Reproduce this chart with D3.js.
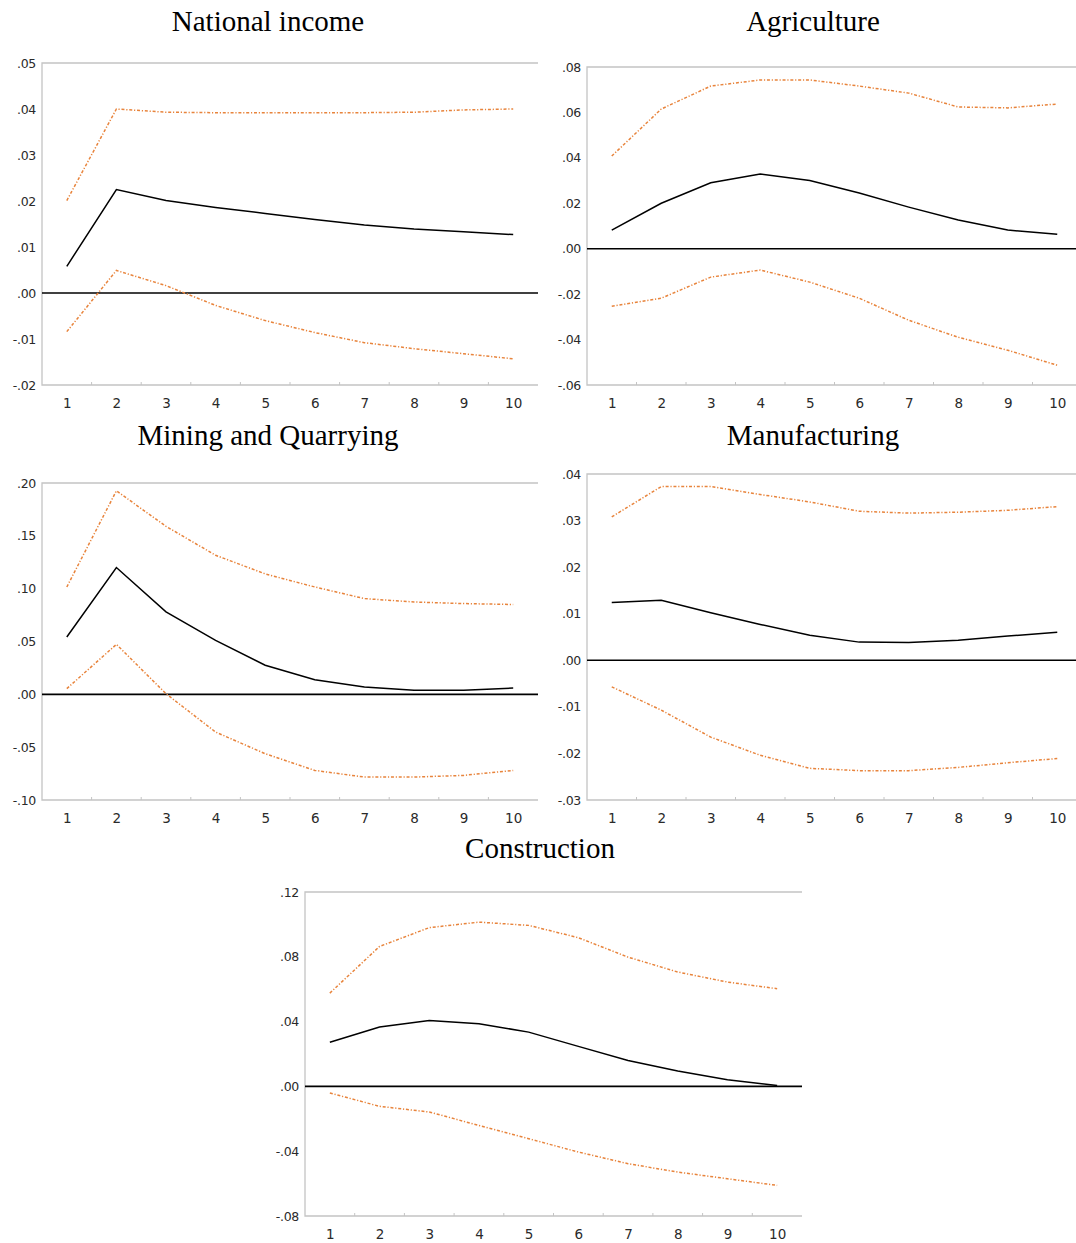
<!DOCTYPE html>
<html>
<head>
<meta charset="utf-8">
<script src="https://cdn.jsdelivr.net/npm/d3@7"></script>
<style>
  body { margin: 0; background: #fff; }
  .ttl { font-family: "Liberation Serif", "Times New Roman", serif; font-size: 29px; fill: #000; }
  .tick text { font-family: "DejaVu Sans", Tahoma, sans-serif; fill: #2a2a2a; }
  .yax .tick text { font-size: 12.5px; letter-spacing: -0.3px; }
  .xax .tick text { font-size: 13.5px; }
</style>
</head>
<body>
<svg width="1076" height="1243"></svg>
<script>
// horizons (periods after the shock)
var horizons = [1, 2, 3, 4, 5, 6, 7, 8, 9, 10];

// National income
var niResp  = [0.0058, 0.0225, 0.0201, 0.0186, 0.0173, 0.0160, 0.0148, 0.0139, 0.0133, 0.0127];
var niUpper = [0.0201, 0.0400, 0.0393, 0.0392, 0.0392, 0.0392, 0.0392, 0.0393, 0.0398, 0.0400];
var niLower = [-0.0084, 0.0049, 0.0016, -0.0027, -0.0060, -0.0086, -0.0108, -0.0121, -0.0132, -0.0143];
var niTicks = [-0.02, -0.01, 0, 0.01, 0.02, 0.03, 0.04, 0.05];

// Agriculture
var agResp  = [0.0082, 0.0200, 0.0290, 0.0329, 0.0300, 0.0245, 0.0183, 0.0126, 0.0082, 0.0064];
var agUpper = [0.0408, 0.0615, 0.0716, 0.0743, 0.0743, 0.0716, 0.0685, 0.0624, 0.0620, 0.0637];
var agLower = [-0.0253, -0.0218, -0.0125, -0.0094, -0.0147, -0.0218, -0.0315, -0.0390, -0.0447, -0.0513];
var agTicks = [-0.06, -0.04, -0.02, 0, 0.02, 0.04, 0.06, 0.08];

// Mining and Quarrying
var mqResp  = [0.0543, 0.1200, 0.0780, 0.0510, 0.0275, 0.0139, 0.0069, 0.0038, 0.0038, 0.0060];
var mqUpper = [0.1016, 0.1926, 0.1590, 0.1316, 0.1140, 0.1016, 0.0906, 0.0874, 0.0859, 0.0850];
var mqLower = [0.0054, 0.0473, 0.0006, -0.0357, -0.0562, -0.0720, -0.0783, -0.0783, -0.0767, -0.0720];
var mqTicks = [-0.10, -0.05, 0, 0.05, 0.10, 0.15, 0.20];

// Manufacturing
var mfResp  = [0.0124, 0.0129, 0.0102, 0.0077, 0.0054, 0.0039, 0.0038, 0.0043, 0.0052, 0.0060];
var mfUpper = [0.0308, 0.0373, 0.0373, 0.0356, 0.0340, 0.0320, 0.0316, 0.0318, 0.0322, 0.0330];
var mfLower = [-0.0057, -0.0107, -0.0165, -0.0204, -0.0232, -0.0237, -0.0237, -0.0230, -0.0220, -0.0211];
var mfTicks = [-0.03, -0.02, -0.01, 0, 0.01, 0.02, 0.03, 0.04];

// Construction
var coResp  = [0.0272, 0.0366, 0.0407, 0.0387, 0.0335, 0.0247, 0.0160, 0.0095, 0.0041, 0.0006];
var coUpper = [0.0576, 0.0864, 0.0980, 0.1014, 0.0994, 0.0918, 0.0798, 0.0706, 0.0644, 0.0603];
var coLower = [-0.0041, -0.0123, -0.0158, -0.0241, -0.0323, -0.0405, -0.0477, -0.0529, -0.0570, -0.0611];
var coTicks = [-0.08, -0.04, 0, 0.04, 0.08, 0.12];

var svg = d3.select("svg");

var panels = [
  {title: "National income",      resp: niResp, upper: niUpper, lower: niLower, ticks: niTicks,
   box: {left: 42,  top: 63,  right: 538,  bottom: 385},  titleX: 268, titleY: 31},
  {title: "Agriculture",          resp: agResp, upper: agUpper, lower: agLower, ticks: agTicks,
   box: {left: 587, top: 67,  right: 1082, bottom: 385},  titleX: 813, titleY: 31},
  {title: "Mining and Quarrying", resp: mqResp, upper: mqUpper, lower: mqLower, ticks: mqTicks,
   box: {left: 42,  top: 483, right: 538,  bottom: 800},  titleX: 268, titleY: 445},
  {title: "Manufacturing",        resp: mfResp, upper: mfUpper, lower: mfLower, ticks: mfTicks,
   box: {left: 587, top: 474, right: 1082, bottom: 800},  titleX: 813, titleY: 445},
  {title: "Construction",         resp: coResp, upper: coUpper, lower: coLower, ticks: coTicks,
   box: {left: 305, top: 892, right: 802,  bottom: 1216}, titleX: 540, titleY: 858}
];

// EViews style labels: .05, .00, -.01
function fmt(d) {
  var s = Math.abs(d).toFixed(2).replace("0.", ".");
  return d < 0 ? "-" + s : s;
}

panels.forEach(function(p) {
  var b = p.box;
  var g = svg.append("g");

  var x = d3.scalePoint()
            .domain(horizons)
            .range([b.left, b.right])
            .padding(0.5);

  var y = d3.scaleLinear()
            .domain(d3.extent(p.ticks))
            .range([b.bottom, b.top]);

  g.append("text")
    .attr("class", "ttl")
    .attr("x", p.titleX)
    .attr("y", p.titleY)
    .attr("text-anchor", "middle")
    .text(p.title);

  // frame: left, top and bottom only
  var frame = "M" + b.right + "," + b.top + "H" + b.left + "V" + b.bottom + "H" + b.right;
  g.append("path")
    .attr("d", frame)
    .attr("fill", "none")
    .attr("stroke", "#c4c4c4")
    .attr("stroke-width", 1.3);

  // little ticks at period boundaries
  var step = x.step();
  g.append("g")
    .selectAll("line")
    .data(horizons.slice(0, -1))
    .enter().append("line")
      .attr("x1", function(d) { return x(d) + step / 2; })
      .attr("x2", function(d) { return x(d) + step / 2; })
      .attr("y1", b.bottom)
      .attr("y2", b.bottom - 3)
      .attr("stroke", "#c4c4c4");

  var yAxis = g.append("g")
      .attr("class", "yax")
      .attr("transform", "translate(" + (b.left - 3) + ",0)")
      .call(d3.axisLeft(y).tickValues(p.ticks).tickSize(0).tickPadding(3).tickFormat(fmt));
  yAxis.select(".domain").remove();

  var xAxis = g.append("g")
      .attr("class", "xax")
      .attr("transform", "translate(0," + b.bottom + ")")
      .call(d3.axisBottom(x).tickSize(0).tickPadding(19));
  xAxis.select(".domain").remove();
  xAxis.selectAll("text").attr("dy", "0.32em");

  // zero line
  g.append("line")
    .attr("x1", b.left)
    .attr("x2", b.right)
    .attr("y1", y(0))
    .attr("y2", y(0))
    .attr("stroke", "#000")
    .attr("stroke-width", 1.6);

  var line = d3.line()
      .x(function(d, i) { return x(horizons[i]); })
      .y(function(d) { return y(d); });

  // confidence bands, dash-dot
  [p.upper, p.lower].forEach(function(band) {
    g.append("path")
      .datum(band)
      .attr("d", line)
      .attr("fill", "none")
      .attr("stroke", "#e8843c")
      .attr("stroke-width", 1.5)
      .attr("stroke-dasharray", "3,1.8,1.2,1.8");
  });

  g.append("path")
    .datum(p.resp)
    .attr("d", line)
    .attr("fill", "none")
    .attr("stroke", "#000")
    .attr("stroke-width", 1.5);
});
</script>
</body>
</html>
